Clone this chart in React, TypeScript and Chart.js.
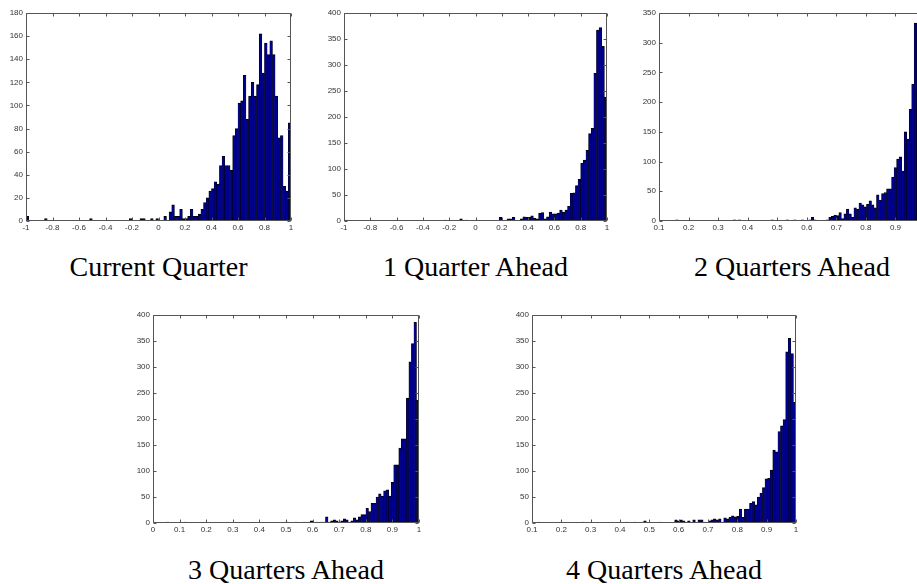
import React, { useEffect, useRef } from "react";
import { Chart, registerables } from "chart.js";

Chart.register(...registerables);

// ---------------- data ----------------
const titles = [
  "Current Quarter",
  "1 Quarter Ahead",
  "2 Quarters Ahead",
  "3 Quarters Ahead",
  "4 Quarters Ahead",
];

// histogram bin edges: first edge and bin width for each panel
const binStarts = [-1, -1, 0.156, 0.05, 0.12];
const binWidths = [0.02, 0.02, 0.0085, 0.0095, 0.0088];

// counts per bin (left to right)
const countsCurrent = [
  4, 0, 0, 0, 0, 0, 0, 2, 0, 0,
  0, 0, 0, 0, 0, 0, 0, 0, 0, 0,
  0, 0, 0, 0, 2, 0, 0, 0, 0, 0,
  0, 0, 0, 0, 0, 0, 0, 0, 0, 2,
  0, 0, 0, 2, 2, 0, 0, 2, 0, 2,
  0, 0, 4, 0, 8, 14, 4, 4, 10, 2,
  2, 4, 10, 4, 4, 6, 10, 16, 20, 26,
  28, 34, 32, 48, 56, 48, 48, 44, 74, 80,
  102, 104, 126, 88, 108, 120, 108, 118, 162, 128,
  154, 144, 156, 144, 108, 72, 74, 30, 26, 85,
];

const countsQ1 = [
  2, 0, 0, 0, 0, 0, 0, 0, 0, 0,
  0, 0, 0, 0, 0, 0, 0, 0, 0, 0,
  0, 0, 0, 0, 0, 0, 0, 0, 0, 0,
  0, 0, 0, 0, 0, 0, 0, 0, 2, 0,
  0, 0, 0, 0, 4, 0, 2, 0, 0, 0,
  2, 0, 0, 0, 0, 0, 0, 0, 0, 7,
  0, 2, 4, 4, 7, 0, 0, 4, 8, 7,
  7, 10, 5, 4, 15, 16, 4, 8, 17, 14,
  14, 15, 21, 17, 21, 28, 53, 54, 68, 80,
  111, 117, 136, 168, 178, 284, 367, 372, 336, 238,
];

// right part of this panel is cut off by the page edge
const countsQ2 = [
  2, 0, 0, 0, 0, 0, 0, 0, 0, 0,
  0, 0, 0, 0, 0, 0, 0, 0, 0, 0,
  0, 0, 0, 2, 0, 2, 0, 0, 0, 0,
  0, 0, 0, 0, 0, 0, 0, 0, 2, 0,
  0, 0, 0, 0, 2, 0, 0, 2, 0, 0,
  2, 0, 0, 2, 6, 2, 0, 0, 0, 0,
  2, 6, 8, 10, 9, 14, 4, 12, 20, 12,
  6, 22, 20, 30, 27, 24, 28, 34, 27, 22,
  44, 35, 46, 48, 54, 54, 74, 90, 104, 108,
  84, 150, 138, 188, 230, 333, 190,
];

const countsQ3 = [
  2, 0, 0, 0, 0, 0, 0, 2, 0, 0,
  0, 0, 0, 0, 0, 0, 0, 0, 0, 0,
  0, 0, 0, 0, 0, 0, 0, 0, 0, 0,
  0, 0, 0, 0, 0, 0, 0, 0, 0, 0,
  0, 0, 0, 0, 0, 0, 0, 2, 0, 0,
  0, 2, 0, 0, 2, 0, 2, 4, 0, 2,
  0, 2, 2, 12, 2, 4, 6, 4, 2, 4,
  8, 6, 2, 4, 10, 6, 12, 16, 16, 28,
  22, 38, 38, 50, 56, 52, 62, 64, 52, 78,
  112, 112, 144, 162, 162, 240, 310, 345, 386, 236,
];

const countsQ4 = [
  2, 0, 0, 0, 0, 0, 0, 0, 0, 0,
  0, 0, 0, 0, 0, 0, 0, 2, 0, 0,
  0, 0, 0, 0, 0, 0, 0, 0, 0, 0,
  0, 0, 0, 0, 2, 0, 0, 2, 0, 0,
  2, 4, 0, 0, 0, 0, 0, 2, 0, 0,
  0, 0, 0, 6, 4, 6, 4, 2, 4, 0,
  6, 0, 6, 6, 2, 0, 4, 6, 8, 6,
  8, 2, 10, 8, 11, 14, 12, 13, 27, 11,
  27, 27, 38, 41, 35, 50, 57, 68, 85, 86,
  102, 140, 137, 176, 187, 199, 329, 355, 326, 232,
];

const allCounts = [countsCurrent, countsQ1, countsQ2, countsQ3, countsQ4];

// axis limits and tick labels
const xMins = [-1, -1, 0.1, 0, 0.1];
const xMaxs = [1, 1, 1, 1, 1];
const xTicksWide = [-1, -0.8, -0.6, -0.4, -0.2, 0, 0.2, 0.4, 0.6, 0.8, 1];
const xTicksFrom01 = [0.1, 0.2, 0.3, 0.4, 0.5, 0.6, 0.7, 0.8, 0.9, 1];
const xTicksFrom0 = [0, 0.1, 0.2, 0.3, 0.4, 0.5, 0.6, 0.7, 0.8, 0.9, 1];
const allXTicks = [xTicksWide, xTicksWide, xTicksFrom01, xTicksFrom0, xTicksFrom01];

const yTicks180 = [0, 20, 40, 60, 80, 100, 120, 140, 160, 180];
const yTicks350 = [0, 50, 100, 150, 200, 250, 300, 350];
const yTicks400 = [0, 50, 100, 150, 200, 250, 300, 350, 400];
const allYTicks = [yTicks180, yTicks400, yTicks350, yTicks400, yTicks400];
const yMaxs = [180, 400, 350, 400, 400];

// ---------------- layout / style ----------------
// plot-area rectangles on the page: [left, top, right, bottom]
const plotRects: [number, number, number, number][] = [
  [26, 13, 291, 221],
  [344, 13, 607, 221],
  [659, 13, 925, 221],
  [153, 315, 419, 523],
  [532, 315, 796, 523],
];
const titleBaselines = [276, 276, 276, 579, 579];

const PAD_L = 40;
const PAD_R = 12;
const PAD_T = 8;
const PAD_B = 22;
const BAR_FILL = "rgb(0,0,143)";
const BAR_EDGE = "#000000";
const AXIS_COLOR = "#555555";
const TICK_FONT = { family: "'Liberation Sans', Arial, sans-serif", size: 8 };
const TICK_COLOR = "#333333";
const TITLE_SIZE = 28;

const matlabAxes = {
  id: "matlabAxes",
  afterDraw(chart: any) {
    const { ctx, chartArea: a } = chart;
    const xs = chart.scales.x;
    const ys = chart.scales.y;
    const l = a.left + 0.5;
    const r = a.right - 0.5;
    const t = a.top + 0.5;
    const b = a.bottom - 0.5;
    ctx.save();
    ctx.strokeStyle = AXIS_COLOR;
    ctx.lineWidth = 1;
    ctx.beginPath();
    ctx.rect(l, t, r - l, b - t);
    const tl = 3;
    xs.ticks.forEach((tk: any) => {
      const px = Math.round(xs.getPixelForValue(tk.value)) + 0.5;
      if (px < l - 1 || px > r + 1) return;
      ctx.moveTo(px, b);
      ctx.lineTo(px, b - tl);
      ctx.moveTo(px, t);
      ctx.lineTo(px, t + tl);
    });
    ys.ticks.forEach((tk: any) => {
      const py = Math.round(ys.getPixelForValue(tk.value)) + 0.5;
      ctx.moveTo(l, py);
      ctx.lineTo(l + tl, py);
      ctx.moveTo(r, py);
      ctx.lineTo(r - tl, py);
    });
    ctx.stroke();
    ctx.restore();
  },
};

function HistPanel({ idx }: { idx: number }) {
  const ref = useRef<HTMLCanvasElement | null>(null);
  const [L, T, R, B] = plotRects[idx];
  const W = R - L + PAD_L + PAD_R;
  const H = B - T + PAD_T + PAD_B;

  useEffect(() => {
    if (!ref.current) return;
    const counts = allCounts[idx];
    const start = binStarts[idx];
    const width = binWidths[idx];
    const data = counts.map((c, i) => ({ x: start + width * (i + 0.5), y: c }));
    const xTicks = allXTicks[idx];
    const yTicks = allYTicks[idx];
    const chart = new Chart(ref.current, {
      type: "bar",
      data: {
        datasets: [
          {
            data: data as any,
            backgroundColor: BAR_FILL,
            borderColor: BAR_EDGE,
            borderWidth: { top: 1, left: 0.5, right: 0.5, bottom: 0 } as any,
            borderSkipped: "start",
            barPercentage: 1,
            categoryPercentage: 1,
          },
        ],
      },
      options: {
        animation: false,
        responsive: false,
        devicePixelRatio: 1,
        events: [],
        layout: { padding: { left: 0, top: PAD_T, right: PAD_R, bottom: 0 } },
        plugins: {
          legend: { display: false },
          tooltip: { enabled: false },
          title: { display: false },
        },
        scales: {
          x: {
            type: "linear",
            min: xMins[idx],
            max: xMaxs[idx],
            offset: false,
            grid: { display: false, drawTicks: false },
            border: { display: false },
            afterFit: (s: any) => {
              s.height = PAD_B;
            },
            afterBuildTicks: (s: any) => {
              s.ticks = xTicks.map((v) => ({ value: v }));
            },
            ticks: {
              autoSkip: false,
              maxRotation: 0,
              minRotation: 0,
              padding: 2,
              font: TICK_FONT,
              color: TICK_COLOR,
              callback: (v: any) => String(v),
            },
          },
          y: {
            type: "linear",
            min: 0,
            max: yMaxs[idx],
            grid: { display: false, drawTicks: false },
            border: { display: false },
            afterFit: (s: any) => {
              s.width = PAD_L;
            },
            afterBuildTicks: (s: any) => {
              s.ticks = yTicks.map((v) => ({ value: v }));
            },
            ticks: {
              autoSkip: false,
              padding: 3,
              font: TICK_FONT,
              color: TICK_COLOR,
              callback: (v: any) => String(v),
            },
          },
        },
      } as any,
      plugins: [matlabAxes],
    });
    return () => chart.destroy();
  }, [idx]);

  const cx = (L + R) / 2;
  const titleTop = titleBaselines[idx] - TITLE_SIZE * 0.835;

  return (
    <>
      <canvas
        ref={ref}
        width={W}
        height={H}
        style={{
          position: "absolute",
          left: L - PAD_L,
          top: T - PAD_T,
          width: W,
          height: H,
        }}
      />
      <div
        style={{
          position: "absolute",
          left: cx - 200,
          width: 400,
          top: titleTop,
          textAlign: "center",
          fontFamily: "'Liberation Serif', 'Times New Roman', serif",
          fontSize: TITLE_SIZE,
          lineHeight: `${TITLE_SIZE}px`,
          color: "#000",
          whiteSpace: "nowrap",
        }}
      >
        {titles[idx]}
      </div>
    </>
  );
}

export default function App() {
  return (
    <div
      style={{
        position: "fixed",
        left: 0,
        top: 0,
        width: 917,
        height: 584,
        overflow: "hidden",
        background: "#ffffff",
      }}
    >
      {titles.map((_, i) => (
        <HistPanel key={i} idx={i} />
      ))}
    </div>
  );
}
